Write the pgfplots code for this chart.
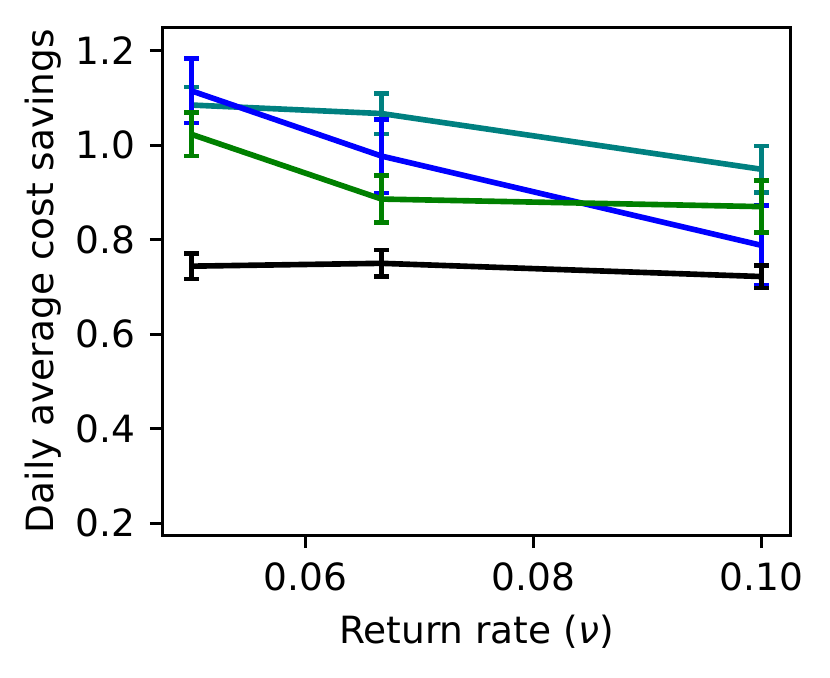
\documentclass[border=0pt]{standalone}
\usepackage{fontspec}
\setmainfont{DejaVu Sans}
\usepackage{pgfplots}
\pgfplotsset{compat=1.18}
\definecolor{mplteal}{RGB}{0,128,128}
\definecolor{mplgreen}{RGB}{0,128,0}
\definecolor{mplblue}{RGB}{0,0,255}
\begin{document}
\begin{tikzpicture}
\useasboundingbox (-39.12bp,-34.08bp) rectangle (160.08bp,128.4bp);
\begin{axis}[
  at={(0,0)}, anchor=south west,
  scale only axis,
  width=150.5bp, height=121.9bp,
  xmin=0.0475, xmax=0.1025,
  ymin=0.175, ymax=1.25,
  xtick={0.06,0.08,0.10},
  ytick={0.2,0.4,0.6,0.8,1.0,1.2},
  xticklabel style={/pgf/number format/.cd, fixed, fixed zerofill, precision=2},
  yticklabel style={/pgf/number format/.cd, fixed, fixed zerofill, precision=1},
  /pgf/number format/assume math mode=true,
  scaled x ticks=false,
  tick align=outside,
  major tick length=3.15bp,
  tick style={black, line width=0.72bp},
  axis line style={line width=0.72bp},
  ticklabel style={font=\fontsize{9bp}{11bp}\selectfont},
  label style={font=\fontsize{9bp}{11bp}\selectfont},
  xlabel={Return rate (\textit{ν})},
  ylabel={Daily average cost savings},
  ylabel shift=-3.5bp,
  xlabel shift=-1bp,
  xtick pos=bottom, ytick pos=left,
  every axis plot/.append style={line width=1.35bp, mark=none},
  error bars/y dir=both, error bars/y explicit,
  error bars/error bar style={line width=1.35bp},
  error bars/error mark options={line width=1.1bp, mark size=1.7bp, rotate=90},
]
\addplot[mplteal] coordinates {
  (0.05,1.085) +- (0,0.038)
  (0.06667,1.067) +- (0,0.043)
  (0.1,0.949) +- (0,0.049)
};
\addplot[mplblue] coordinates {
  (0.05,1.115) +- (0,0.068)
  (0.06667,0.977) +- (0,0.078)
  (0.1,0.788) +- (0,0.085)
};
\addplot[mplgreen] coordinates {
  (0.05,1.023) +- (0,0.046)
  (0.06667,0.886) +- (0,0.050)
  (0.1,0.870) +- (0,0.055)
};
\addplot[black] coordinates {
  (0.05,0.744) +- (0,0.027)
  (0.06667,0.750) +- (0,0.028)
  (0.1,0.722) +- (0,0.024)
};
\end{axis}
\end{tikzpicture}
\end{document}
